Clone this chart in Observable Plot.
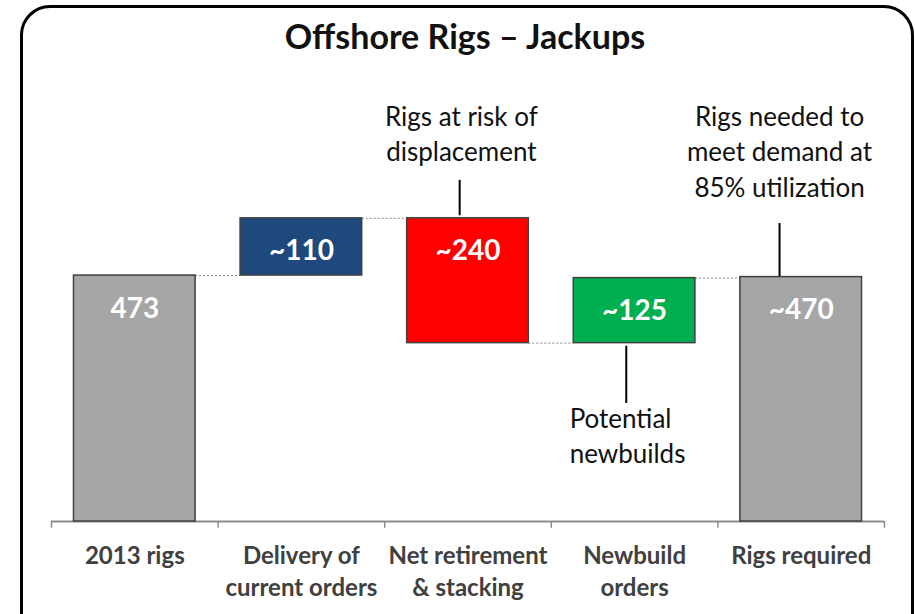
<!DOCTYPE html>
<html>
<head>
<meta charset="utf-8">
<script src="https://cdn.jsdelivr.net/npm/d3@7"></script>
<script src="https://cdn.jsdelivr.net/npm/@observablehq/plot@0.6"></script>
<style>
  html, body { margin: 0; padding: 0; width: 915px; height: 614px; overflow: hidden; background: #fff; }
  #frame { position: absolute; left: 20px; top: 5px; width: 888px; height: 640px; border: 3px solid #000; border-radius: 30px; box-sizing: content-box; }
  #title { position: absolute; left: 0; top: 15px; width: 930px; text-align: center; font-family: Lato, sans-serif; font-weight: bold; font-size: 34px; color: #111; }
  #chart { position: absolute; left: 0; top: 0; }
</style>
</head>
<body>
<div id="frame"></div>
<div id="title">Offshore Rigs – Jackups</div>
<div id="chart"></div>
<script>
// ---- data ----
const categories = ["2013 rigs", "Delivery of\ncurrent orders", "Net retirement\n& stacking", "Newbuild\norders", "Rigs required"];
const values = [473, 110, -240, 125, 470];
const kinds = ["total", "delta", "delta", "delta", "total"];
const valueLabels = ["473", "~110", "~240", "~125", "~470"];
const barColors = ["#A6A6A6", "#1F497D", "#FF0000", "#00B050", "#A6A6A6"];

// annotations: text, anchor x (category index offset), text y (value units), line y range
const annoTexts = ["Rigs at risk of\ndisplacement", "Rigs needed to\nmeet demand at\n85% utilization", "Potential\nnewbuilds"];
const annoTextX = [1.96, 3.87, 2.61];
const annoTextY = [748, 714, 168];
const annoAnchor = ["middle", "middle", "start"];
const annoLineX = [1.95, 3.87, 2.95];
const annoLineY1 = [588, 471, 337];
const annoLineY2 = [656, 573, 227];

// ---- waterfall computation ----
let running = 0;
const rows = categories.map((cat, i) => {
  let y1, y2;
  if (kinds[i] === "total") { y1 = 0; y2 = values[i]; running = values[i]; }
  else { y1 = running; y2 = running + values[i]; running = y2; }
  return { i, cat, y1, y2, top: Math.max(y1, y2), end: running, label: valueLabels[i], color: barColors[i] };
});
const connectors = rows.slice(0, -1).map(r => ({ i: r.i, level: r.end }));
const boundaries = d3.range(categories.length + 1).map(k => k - 0.5);
const annos = annoTexts.map((t, k) => ({ t, tx: annoTextX[k], ty: annoTextY[k], anchor: annoAnchor[k], lx: annoLineX[k], ly1: annoLineY1[k], ly2: annoLineY2[k] }));

const hw = 0.365;
const font = "Lato, sans-serif";

const chart = Plot.plot({
  width: 915,
  height: 614,
  marginLeft: 51,
  marginRight: 31,
  marginTop: 105,
  marginBottom: 93,
  style: { fontFamily: font, background: "transparent", overflow: "visible" },
  x: { type: "linear", domain: [-0.5, categories.length - 0.5], axis: null },
  y: { domain: [0, 800], axis: null },
  color: { type: "identity" },
  marks: [
    // axis baseline and ticks
    Plot.ruleY([0], { x1: () => -0.5, x2: () => categories.length - 0.5, stroke: "#8C8C8C", strokeWidth: 2 }),
    Plot.ruleX(boundaries, { x: d => d, y1: () => 0, y2: () => -13, stroke: "#8C8C8C", strokeWidth: 1.5 }),
    // connectors
    Plot.ruleY(connectors, { y: "level", x1: d => d.i + hw, x2: d => d.i + 1 - hw, stroke: "#8C8C8C", strokeWidth: 1, strokeDasharray: "2,2" }),
    // bars
    Plot.rectY(rows, { x1: d => d.i - hw, x2: d => d.i + hw, y1: "y1", y2: "y2", fill: "color", stroke: "#404040", strokeWidth: 1.5 }),
    // value labels
    Plot.text(rows, { x: "i", y: "top", text: "label", dy: 33, fill: "white", fontWeight: "bold", fontSize: 28 }),
    // category labels
    Plot.text(rows, { x: "i", y: () => 0, text: "cat", dy: 20, lineAnchor: "top", lineHeight: 1.34, fill: "#404040", fontWeight: "bold", fontSize: 24 }),
    // annotation lines
    Plot.ruleX(annos, { x: "lx", y1: "ly1", y2: "ly2", stroke: "#000", strokeWidth: 2 }),
    // annotation texts
    Plot.text(annos.filter(a => a.anchor === "middle"), { x: "tx", y: "ty", text: "t", textAnchor: "middle", lineAnchor: "middle", lineHeight: 1.35, fontSize: 26, fill: "#111" }),
    Plot.text(annos.filter(a => a.anchor === "start"), { x: "tx", y: "ty", text: "t", textAnchor: "start", lineAnchor: "middle", lineHeight: 1.35, fontSize: 26, fill: "#111" })
  ]
});
document.getElementById("chart").appendChild(chart);
</script>
</body>
</html>
